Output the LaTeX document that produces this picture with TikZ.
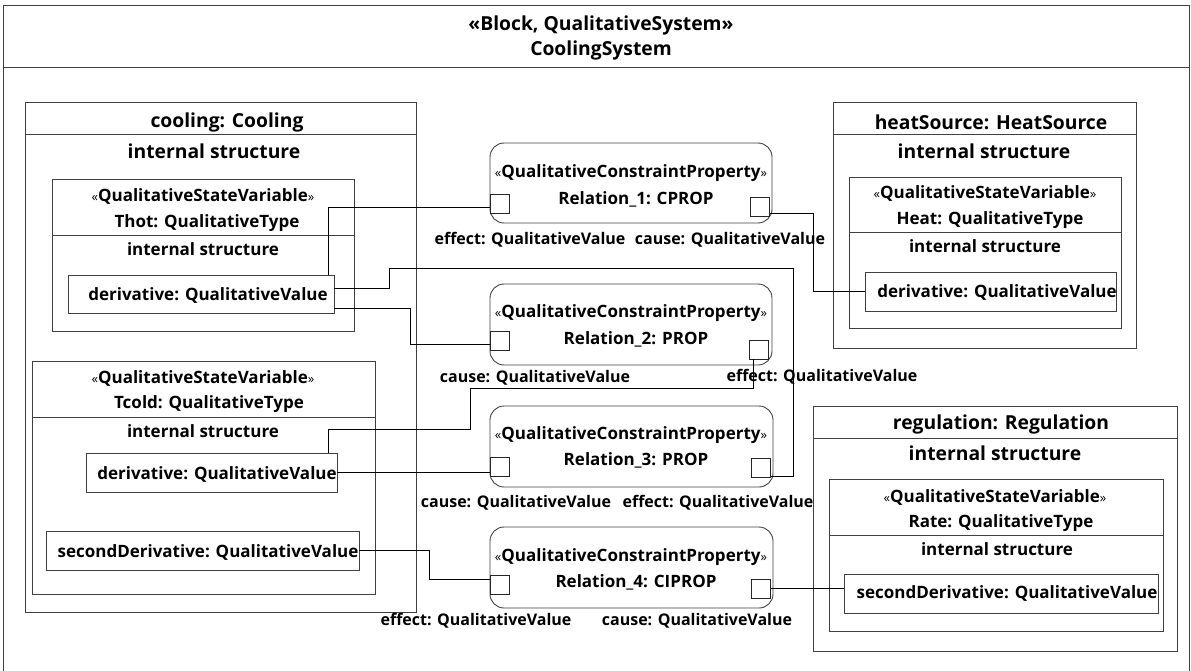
\documentclass[tikz,border=0pt]{standalone}
\usepackage{fontspec}
\setmainfont{Open Sans}
\usetikzlibrary{fit,positioning}

\newcommand{\bodyfont}{\fontsize{17}{20}\selectfont\bfseries}
\newcommand{\bigfont}{\fontsize{19.3}{22}\selectfont\bfseries}
\newcommand{\lblfont}{\fontsize{16}{19}\selectfont\bfseries}
\newcommand{\stereo}[1]{{\fontsize{13}{13}\selectfont\mdseries«}#1{\fontsize{13}{13}\selectfont\mdseries»}}

\tikzset{
	box/.style = {draw=black!75, line width=0.9pt, inner sep=0pt},
	relbox/.style = {draw=black!75, line width=0.9pt, inner sep=0pt, rounded corners=14pt},
	port/.style = {draw=black!85, line width=0.9pt, inner sep=0pt, minimum width=19pt, minimum height=19pt},
	txt/.style = {font=\bodyfont, inner sep=0pt},
	ttl/.style = {font=\bigfont, inner sep=0pt},
	lbl/.style = {font=\lblfont, inner sep=0pt},
	wire/.style = {line width=0.9pt},
}

\begin{document}
\begin{tikzpicture}[x=1pt, y=-1pt]
		\useasboundingbox (0,0) rectangle (1191,671);
		\clip (0,0) rectangle (1191,671);
		% 外枠
		\node[box, fit={(3,5) (1189,67)}] (syshead) {};
		\node[box, fit={(3,67) (1189,700)}] (sysbody) {};
		\node[ttl] (sysstereo) at (601,25) {«Block, QualitativeSystem»};
		\node[ttl] (sysname) at (601,50) {CoolingSystem};
		% cooling
		\node[box, fit={(25,102) (416,134)}] (coolhead) {};
		\node[box, fit={(25,134) (416,612)}] (coolbody) {};
		\node[ttl] (coolname) at (227,122) {cooling: Cooling};
		\node[ttl] (coolis) at (214,151) {internal structure};
		\node[box, fit={(52,179) (354,235)}] (thhead) {};
		\node[box, fit={(52,235) (354,331)}] (thbody) {};
		\node[txt] (thstereo) at (203,196) {\stereo{QualitativeStateVariable}};
		\node[txt] (thname) at (207,223) {Thot: QualitativeType};
		\node[txt] (this) at (203,249) {internal structure};
		\node[box, fit={(68,275) (334,313)}] (thder) {};
		\node[txt] (thdertext) at (208,295) {derivative: QualitativeValue};
		\node[box, fit={(32,361) (375,417)}] (tchead) {};
		\node[box, fit={(32,417) (375,594)}] (tcbody) {};
		\node[txt] (tcstereo) at (203,378) {\stereo{QualitativeStateVariable}};
		\node[txt] (tcname) at (209,404) {Tcold: QualitativeType};
		\node[txt] (tcis) at (203,431) {internal structure};
		\node[box, fit={(86,453) (337,492)}] (tcder) {};
		\node[txt] (tcdertext) at (217,474) {derivative: QualitativeValue};
		\node[box, fit={(46,531) (359,570)}] (tcsd) {};
		\node[txt] (tcsdtext) at (208,552) {secondDerivative: QualitativeValue};
		% heatSource
		\node[box, fit={(833,102) (1136,134)}] (hshead) {};
		\node[box, fit={(833,134) (1136,348)}] (hsbody) {};
		\node[ttl] (hsname) at (991,122) {heatSource: HeatSource};
		\node[ttl] (hsis) at (984,151) {internal structure};
		\node[box, fit={(849,177) (1121,232)}] (hthead) {};
		\node[box, fit={(849,232) (1121,328)}] (htbody) {};
		\node[txt] (htstereo) at (985,193) {\stereo{QualitativeStateVariable}};
		\node[txt] (htname) at (990,220) {Heat: QualitativeType};
		\node[txt] (htis) at (985,246) {internal structure};
		\node[box, fit={(865,272) (1116,311)}] (hsder) {};
		\node[txt] (hsdertext) at (997,292) {derivative: QualitativeValue};
		% regulation
		\node[box, fit={(813,406) (1177,438)}] (rghead) {};
		\node[box, fit={(813,438) (1177,651)}] (rgbody) {};
		\node[ttl] (rgname) at (1001,424) {regulation: Regulation};
		\node[ttl] (rgis) at (995,453) {internal structure};
		\node[box, fit={(829,479) (1163,535)}] (rthead) {};
		\node[box, fit={(829,535) (1163,631)}] (rtbody) {};
		\node[txt] (rtstereo) at (995,497) {\stereo{QualitativeStateVariable}};
		\node[txt] (rtname) at (1001,523) {Rate: QualitativeType};
		\node[txt] (rtis) at (997,549) {internal structure};
		\node[box, fit={(844,574) (1158,613)}] (rgsd) {};
		\node[txt] (rgsdtext) at (1007,593) {secondDerivative: QualitativeValue};
		% 制約 Relation_1〜4
		\node[relbox, fit={(490,143) (772,223)}] (rel1) {};
		\node[txt] (rel1stereo) at (631,173) {\stereo{QualitativeConstraintProperty}};
		\node[txt] (rel1name) at (636,199) {Relation\_1: CPROP};
		\node[port, anchor=west] (r1in) at (490,203.5) {};
		\node[port] (r1out) at (760,207) {};
		\node[lbl] (r1eff) at (530,240) {effect: QualitativeValue};
		\node[lbl] (r1cau) at (730,240) {cause: QualitativeValue};
		\node[relbox, fit={(490,284) (772,365)}] (rel2) {};
		\node[txt] (rel2stereo) at (631,313) {\stereo{QualitativeConstraintProperty}};
		\node[txt] (rel2name) at (636,339) {Relation\_2: PROP};
		\node[port, anchor=west] (r2in) at (490,340.5) {};
		\node[port] (r2out) at (758.5,349.5) {};
		\node[lbl] (r2cau) at (535,378) {cause: QualitativeValue};
		\node[lbl] (r2eff) at (822,377) {effect: QualitativeValue};
		\node[relbox, fit={(490,406) (773,487)}] (rel3) {};
		\node[txt] (rel3stereo) at (631,435) {\stereo{QualitativeConstraintProperty}};
		\node[txt] (rel3name) at (636,460) {Relation\_3: PROP};
		\node[port, anchor=west] (r3in) at (490,466.5) {};
		\node[port] (r3out) at (761,467.5) {};
		\node[lbl] (r3cau) at (516,503) {cause: QualitativeValue};
		\node[lbl] (r3eff) at (718,503) {effect: QualitativeValue};
		\node[relbox, fit={(490,527) (773,608)}] (rel4) {};
		\node[txt] (rel4stereo) at (631,557) {\stereo{QualitativeConstraintProperty}};
		\node[txt] (rel4name) at (636,582) {Relation\_4: CIPROP};
		\node[port, anchor=west] (r4in) at (490,585) {};
		\node[port] (r4out) at (761,588.5) {};
		\node[lbl] (r4eff) at (476,621) {effect: QualitativeValue};
		\node[lbl] (r4cau) at (697,621) {cause: QualitativeValue};
		% 接続
		\draw[wire] ([xshift=-6pt]thder.north east) |- ([yshift=-4pt]r1in.west);
		\draw[wire] ([yshift=-6pt]r1out.east) -- ++(43,0) |- (hsder.west);
		\draw[wire] ([yshift=6pt]thder.east) -- ++(55,0) -- ++(0,-20)
			-| ([xshift=22pt,yshift=-9pt]r3out.east) -- ([yshift=-9pt]r3out.east);
		\draw[wire] ([yshift=-14pt]thder.east) -- ++(76,0) |- ([yshift=-4pt]r2in.west);
		\draw[wire] ([xshift=-5pt]r2out.south) -- ++(0,29) -- ++(-283,0) -- ++(0,41)
			-| ([xshift=-9pt]tcder.north east);
		\draw[wire] (tcder.east) -- (tcder.east -| r3in.west);
		\draw[wire] (tcsd.east) -- ++(70,0) |- ([yshift=6pt]r4in.west);
		\draw[wire] (r4out.east) -- (r4out.east -| rgsd.west);
	\end{tikzpicture}
\end{document}
